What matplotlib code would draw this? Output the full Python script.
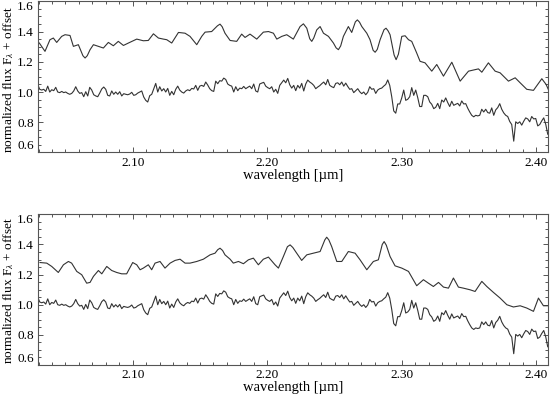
import numpy as np
import matplotlib

matplotlib.use("Agg")
import matplotlib.pyplot as plt
from matplotlib.ticker import MultipleLocator

plt.rcParams["font.family"] = ["Liberation Serif", "DejaVu Serif"]
plt.rcParams["mathtext.fontset"] = "custom"
plt.rcParams["mathtext.rm"] = "Liberation Serif"
plt.rcParams["mathtext.it"] = "Liberation Serif:italic"

# observed spectrum (same in both panels), regular wavelength grid
obs_start, obs_end = 2.0294, 2.4085
obs_flux = [
    1.050, 1.018, 1.013, 1.018, 1.004, 1.039, 1.000, 1.015, 1.009, 1.031,
    1.000, 0.996, 1.004, 0.996, 1.000, 0.991, 0.985, 0.991, 1.007, 1.035,
    1.007, 0.991, 0.996, 0.969, 1.002, 0.974, 1.031, 1.013, 0.982, 0.974,
    0.969, 0.993, 1.020, 1.033, 1.018, 0.978, 0.974, 1.007, 0.985, 1.000,
    0.985, 1.002, 0.974, 0.989, 0.985, 0.982, 0.987, 0.998, 0.978, 0.982,
    0.993, 1.000, 1.007, 0.967, 0.945, 0.934, 0.976, 0.985, 1.020, 1.057,
    1.000, 1.035, 1.007, 1.022,
    1.000, 1.024, 0.978, 1.004, 0.982, 1.018, 1.039, 1.013, 1.000, 0.993,
    1.007, 1.015, 1.009, 1.024, 1.020, 1.044, 1.011, 1.039, 1.044, 1.037,
    1.066, 1.046, 1.022, 1.009, 1.004, 1.072, 1.055, 1.075, 1.072, 1.092,
    1.083, 1.053, 1.044, 1.039, 1.000, 1.035, 1.009, 1.026, 1.022, 1.037,
    1.022, 1.031, 1.039, 1.022, 1.053, 1.007, 1.000, 1.053, 1.059, 1.064,
    1.039, 1.029, 1.022, 1.035, 1.000, 1.018, 0.991, 1.044, 1.061, 1.079,
    1.061, 1.090, 1.048, 1.026,
    1.044, 1.009, 1.044, 1.026, 1.057, 1.007, 1.053, 1.079, 1.066, 1.057,
    1.044, 1.022, 1.033, 1.042, 1.055, 1.066, 1.048, 1.083, 1.044, 1.035,
    1.029, 1.057, 1.061, 1.048, 1.066, 1.039, 1.059, 1.037, 1.018, 1.022,
    0.996, 1.009, 1.022, 1.002, 0.989, 1.000, 0.982, 0.998, 1.035, 1.018,
    1.022, 0.991, 1.013, 1.022, 1.026, 1.039, 1.050, 1.080, 1.044, 0.969,
    0.875, 0.860, 0.921, 0.921, 0.961, 1.013, 0.945, 0.952, 0.969, 1.029,
    0.978, 1.013, 0.963, 0.904,
    0.904, 0.978, 0.978, 0.969, 0.934, 0.919, 0.890, 0.899, 0.925, 0.890,
    0.947, 0.934, 0.961, 0.930, 0.904, 0.939, 0.912, 0.919, 0.925, 0.908,
    0.941, 0.921, 0.923, 0.893, 0.868, 0.846, 0.836, 0.846, 0.842, 0.846,
    0.886, 0.868, 0.886, 0.864, 0.860, 0.895, 0.846, 0.882, 0.897, 0.923,
    0.886, 0.862, 0.846, 0.838, 0.805, 0.785, 0.675, 0.803, 0.792, 0.803,
    0.781, 0.807, 0.829, 0.822, 0.803, 0.838, 0.822, 0.825, 0.776, 0.785,
    0.809, 0.829, 0.787, 0.721,
]

# model spectrum + offset, upper panel
top_model_wave = [
    2.0306, 2.0348, 2.0385, 2.0410, 2.0435, 2.0472, 2.0497, 2.0534, 2.0559, 2.0596,
    2.0630, 2.0646, 2.0662, 2.0683, 2.0708, 2.0745, 2.0782, 2.0819, 2.0856, 2.0893,
    2.0931, 2.0968, 2.1030, 2.1079, 2.1116, 2.1154, 2.1191, 2.1228, 2.1253, 2.1290,
    2.1340, 2.1389, 2.1426, 2.1476, 2.1513, 2.1538, 2.1587, 2.1630, 2.1649, 2.1665,
    2.1686, 2.1724, 2.1773, 2.1810, 2.1835, 2.1872, 2.1922, 2.1971, 2.2009, 2.2046,
    2.2071, 2.2108, 2.2145, 2.2194, 2.2244, 2.2269, 2.2294, 2.2316, 2.2331, 2.2346,
    2.2368, 2.2393, 2.2418, 2.2455, 2.2492, 2.2512, 2.2529, 2.2546, 2.2566, 2.2603,
    2.2628, 2.2655, 2.2670, 2.2686, 2.2703, 2.2740, 2.2764, 2.2787, 2.2802, 2.2818,
    2.2839, 2.2868, 2.2883, 2.2898, 2.2913, 2.2943, 2.2958, 2.2975, 2.3000, 2.3025,
    2.3050, 2.3074, 2.3111, 2.3136, 2.3173, 2.3223, 2.3260, 2.3310, 2.3372, 2.3434,
    2.3496, 2.3570, 2.3595, 2.3644, 2.3694, 2.3731, 2.3793, 2.3843, 2.3880, 2.3929,
    2.3979, 2.4041, 2.4073, 2.4098,
]
top_model_flux = [
    1.324, 1.269, 1.346, 1.357, 1.328, 1.368, 1.379, 1.374, 1.302, 1.313,
    1.240, 1.225, 1.240, 1.280, 1.313, 1.302, 1.291, 1.328, 1.306, 1.335,
    1.308, 1.324, 1.350, 1.339, 1.341, 1.385, 1.357, 1.350, 1.346, 1.324,
    1.394, 1.389, 1.368, 1.313, 1.368, 1.396, 1.400, 1.438, 1.449, 1.432,
    1.389, 1.341, 1.335, 1.383, 1.361, 1.383, 1.350, 1.396, 1.400, 1.389,
    1.350, 1.368, 1.379, 1.350, 1.433, 1.451, 1.422, 1.352, 1.335, 1.358,
    1.411, 1.433, 1.389, 1.368, 1.324, 1.292, 1.280, 1.305, 1.368, 1.433,
    1.394, 1.464, 1.477, 1.462, 1.433, 1.389, 1.346, 1.276, 1.263, 1.282,
    1.346, 1.412, 1.422, 1.405, 1.379, 1.245, 1.214, 1.250, 1.368, 1.372,
    1.346, 1.335, 1.258, 1.203, 1.193, 1.138, 1.182, 1.105, 1.197, 1.072,
    1.138, 1.153, 1.131, 1.193, 1.138, 1.127, 1.072, 1.094, 1.061, 1.018,
    1.011, 1.088, 1.050, 1.000,
]

# model spectrum + offset, lower panel
bottom_model_wave = [
    2.0311, 2.0361, 2.0398, 2.0447, 2.0485, 2.0522, 2.0546, 2.0584, 2.0621, 2.0658,
    2.0683, 2.0708, 2.0745, 2.0770, 2.0807, 2.0844, 2.0881, 2.0918, 2.0955, 2.1000,
    2.1030, 2.1055, 2.1079, 2.1116, 2.1141, 2.1166, 2.1203, 2.1240, 2.1278, 2.1315,
    2.1352, 2.1389, 2.1426, 2.1476, 2.1525, 2.1575, 2.1612, 2.1632, 2.1649, 2.1668,
    2.1686, 2.1724, 2.1748, 2.1786, 2.1823, 2.1860, 2.1897, 2.1934, 2.1971, 2.2009,
    2.2058, 2.2083, 2.2120, 2.2150, 2.2170, 2.2190, 2.2219, 2.2256, 2.2294, 2.2343,
    2.2393, 2.2428, 2.2442, 2.2458, 2.2479, 2.2517, 2.2554, 2.2603, 2.2653, 2.2690,
    2.2740, 2.2789, 2.2826, 2.2855, 2.2869, 2.2885, 2.2913, 2.2950, 2.3000, 2.3050,
    2.3111, 2.3161, 2.3198, 2.3235, 2.3273, 2.3310, 2.3347, 2.3384, 2.3421, 2.3458,
    2.3508, 2.3545, 2.3595, 2.3632, 2.3681, 2.3731, 2.3781, 2.3830, 2.3880, 2.3929,
    2.3979, 2.4016, 2.4053, 2.4098,
]
bottom_model_flux = [
    1.280, 1.276, 1.254, 1.214, 1.265, 1.287, 1.276, 1.221, 1.199, 1.143,
    1.148, 1.188, 1.227, 1.205, 1.254, 1.227, 1.214, 1.205, 1.205, 1.280,
    1.265, 1.232, 1.243, 1.265, 1.232, 1.276, 1.287, 1.243, 1.276, 1.294,
    1.302, 1.276, 1.276, 1.287, 1.302, 1.331, 1.342, 1.365, 1.375, 1.360,
    1.331, 1.302, 1.276, 1.287, 1.272, 1.298, 1.309, 1.265, 1.302, 1.316,
    1.265, 1.243, 1.320, 1.385, 1.397, 1.380, 1.342, 1.294, 1.331, 1.342,
    1.353, 1.430, 1.448, 1.430, 1.386, 1.287, 1.287, 1.353, 1.342, 1.298,
    1.232, 1.287, 1.298, 1.400, 1.419, 1.395, 1.320, 1.258, 1.243, 1.221,
    1.126, 1.166, 1.143, 1.121, 1.148, 1.117, 1.110, 1.177, 1.117, 1.110,
    1.099, 1.088, 1.155, 1.121, 1.082, 1.044, 1.000, 0.985, 0.993, 0.978,
    0.956, 1.044, 0.993, 0.993,
]

x_ticks = [2.10, 2.20, 2.30, 2.40]
y_ticks = [0.6, 0.8, 1.0, 1.2, 1.4, 1.6]

LINE = "#333333"
FRAME = "#555555"
W, H = 551, 399


def draw_panel(ax, model_wave, model_flux):
    obs_wave = np.linspace(obs_start, obs_end, len(obs_flux))
    ax.plot(model_wave, model_flux, color=LINE, lw=0.8, solid_joinstyle="round")
    ax.plot(obs_wave, obs_flux, color=LINE, lw=0.8)

    ax.set_xlim(2.0296, 2.4087)
    ax.set_ylim(0.6, 1.6)
    ax.set_xticks(x_ticks, labels=[f"{v:.2f}" for v in x_ticks])
    ax.set_yticks(y_ticks, labels=[f"{v:.1f}" for v in y_ticks])
    ax.xaxis.set_minor_locator(MultipleLocator(0.01))
    ax.yaxis.set_minor_locator(MultipleLocator(0.05))
    ax.tick_params(which="both", direction="in", top=True, right=True,
                   color=FRAME, width=0.7, labelsize=9.5)
    ax.tick_params(which="major", length=3.6, pad=3)
    ax.tick_params(which="minor", length=2.0)
    ylabels = ax.get_yticklabels()
    ylabels[0].set_va("bottom")
    ylabels[-1].set_va("top")
    for spine in ax.spines.values():
        spine.set_color(FRAME)
        spine.set_linewidth(0.8)
    ax.set_xlabel("wavelength [\u00b5m]", fontsize=10.5, labelpad=0)


fig = plt.figure(figsize=(W / 100, H / 100), dpi=100)
ax_top = fig.add_axes([38 / W, 1 - 152.5 / H, 510 / W, 151.2 / H])
ax_bot = fig.add_axes([38 / W, 1 - 365 / H, 510 / W, 150.7 / H])

draw_panel(ax_top, top_model_wave, top_model_flux)
draw_panel(ax_bot, bottom_model_wave, bottom_model_flux)

ylabel = r"normalized flux F$_\lambda$ + offset"
fig.text(9 / W, 1 - 80 / H, ylabel, rotation=90, ha="center", va="center", fontsize=9.6)
fig.text(9 / W, 1 - 291 / H, ylabel, rotation=90, ha="center", va="center", fontsize=9.6)

fig.savefig("out.png", dpi=100)
